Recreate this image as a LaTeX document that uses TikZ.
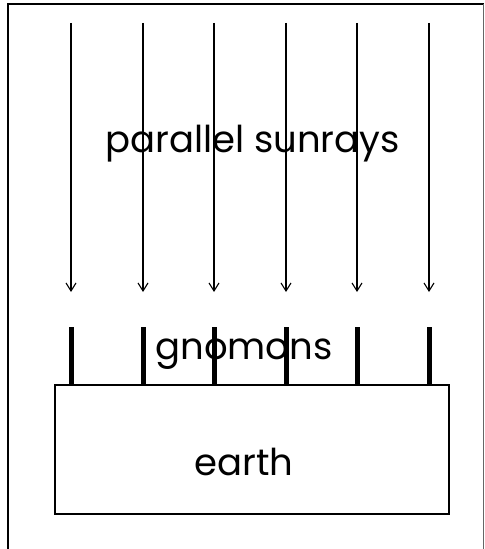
\documentclass[tikz,border=0pt]{standalone}
\usepackage{fontspec}
\setmainfont{Poppins}
\usetikzlibrary{arrows.meta}
\begin{document}
\begin{tikzpicture}[x=1bp,y=-1bp,
  frameline/.style={line width=1.8bp, line cap=rect},
  ray/.style={line width=1.1bp, -{Straight Barb[length=8bp,width=10bp,line width=1.1bp]}},
  gnomon/.style={line width=5bp},
  earthbox/.style={draw, line width=1.4bp, minimum width=394bp, minimum height=129bp, inner sep=0pt},
  lbl/.style={font=\fontsize{37bp}{43bp}\selectfont, anchor=base, inner sep=0pt}]
\useasboundingbox (0,0) rectangle (485,549);
% frame (open at bottom)
\draw[frameline] (8,549) -- (8,4) -- (483,4);
\draw[line width=0.8bp, black!60] (483,4) -- (483,549);
% labels
\node[lbl] (sun) at (252.5,153) {parallel sunrays};
\node[lbl] (gno) at (244,359) {gnomons};
% earth
\node[earthbox] (earth) at (252,449.5) {};
\node[lbl] (earthlbl) at (244,475) {earth};
% rays and gnomons
\foreach \i/\x in {1/71,2/143,3/214,4/286,5/357,6/429}{
  \coordinate (s\i) at (\x,23);
  \coordinate (e\i) at (\x,292);
  \coordinate (g\i) at (\x,327);
  \coordinate (b\i) at (\x,385);
  \draw[ray] (s\i) -- (e\i);
  \draw[gnomon] (g\i) -- (b\i);
}
\end{tikzpicture}
\end{document}
